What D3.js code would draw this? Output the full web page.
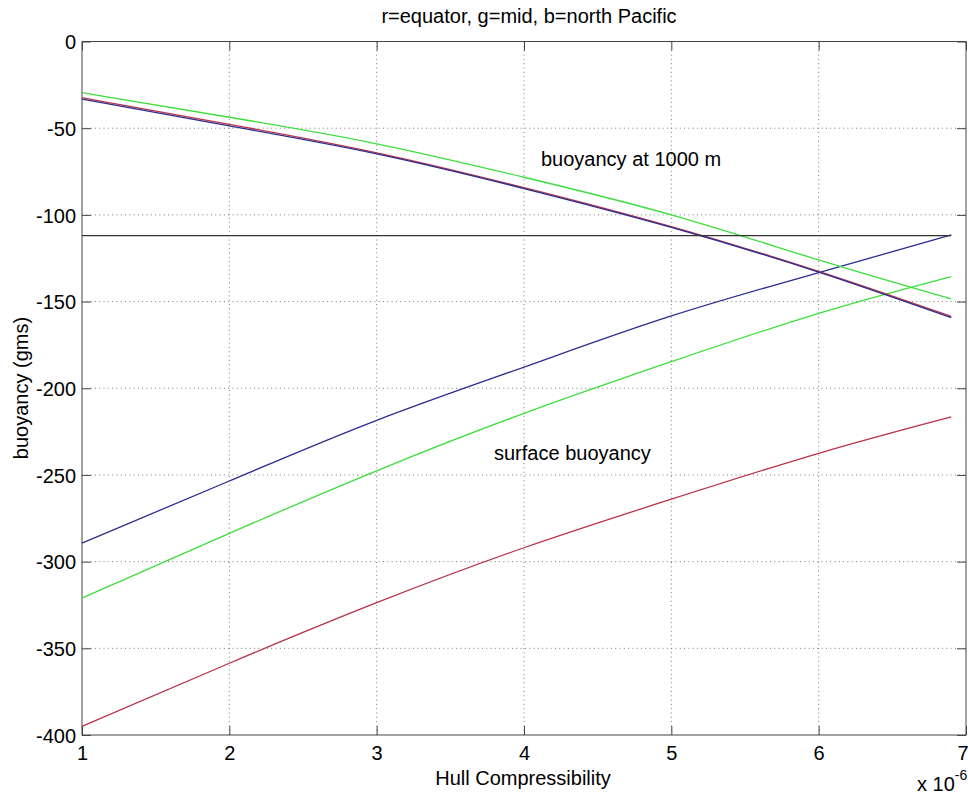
<!DOCTYPE html>
<html lang="en">
<head>
<meta charset="UTF-8">
<title>Buoyancy vs Hull Compressibility</title>
<script src="https://cdn.jsdelivr.net/npm/d3@7"></script>
<style>
    body { margin: 0; background: #fff; }
    svg { display: block; font-family: "Liberation Sans", Arial, sans-serif; }
</style>
</head>
<body>
<div id="chart"></div>
<script>
    // hull compressibility (x 1e-6)
    const compress = [1, 2, 3, 4, 5, 6, 6.9];

    // buoyancy at 1000 m (gms)
    const red1000   = [-32.4, -47.8, -64.2, -84.3, -106.8, -132.6, -158.6];
    const green1000 = [-29.5, -43.7, -59.0, -78.3, -100.0, -126.0, -148.5];
    const blue1000  = [-33.2, -48.7, -64.8, -84.8, -107.2, -133.0, -159.3];

    // surface buoyancy (gms)
    const redSurf   = [-395.0, -358.6, -323.7, -292.0, -264.0, -237.5, -216.5];
    const greenSurf = [-321.0, -283.7, -247.6, -214.5, -184.7, -156.8, -135.6];
    const blueSurf  = [-289.3, -253.5, -218.5, -187.8, -158.3, -133.3, -111.6];

    // reference level
    const refX = [1, 6.9];
    const refY = [-112, -112];

    const xTicks = [1, 2, 3, 4, 5, 6, 7];
    const yTicks = [0, -50, -100, -150, -200, -250, -300, -350, -400];

    const width = 968, height = 794;
    const margin = { top: 41.5, right: 2, bottom: 59, left: 82 };

    const x = d3.scaleLinear().domain([1, 7]).range([margin.left, width - margin.right]);
    const y = d3.scaleLinear().domain([-400, 0]).range([height - margin.bottom, margin.top]);

    const fmt = d => String(d); // plain hyphen minus like MATLAB

    const svg = d3.select("#chart").append("svg")
        .attr("width", width)
        .attr("height", height);

    const x0 = margin.left, x1 = width - margin.right;
    const y0 = height - margin.bottom, y1 = margin.top;
    const tickLen = 9;

    // grid
    svg.append("g")
        .selectAll("line")
        .data(xTicks.slice(1, -1))
        .join("line")
        .attr("x1", d => x(d)).attr("x2", d => x(d))
        .attr("y1", y0).attr("y2", y1)
        .attr("stroke", "#777").attr("stroke-dasharray", "1 3.3");

    svg.append("g")
        .selectAll("line")
        .data(yTicks.slice(1, -1))
        .join("line")
        .attr("y1", d => y(d)).attr("y2", d => y(d))
        .attr("x1", x0).attr("x2", x1)
        .attr("stroke", "#777").attr("stroke-dasharray", "1 3.3");

    // axes (MATLAB style, ticks inward on all sides)
    const xAxis = d3.axisBottom(x).tickValues(xTicks).tickSize(-tickLen).tickPadding(11).tickFormat(fmt);
    const yAxis = d3.axisLeft(y).tickValues(yTicks).tickSize(-tickLen).tickPadding(6).tickFormat(fmt);

    const gx = svg.append("g")
        .attr("transform", `translate(0,${y0})`)
        .call(xAxis);
    const gy = svg.append("g")
        .attr("transform", `translate(${x0},0)`)
        .call(yAxis);
    const gxt = svg.append("g")
        .attr("transform", `translate(0,${y1})`)
        .call(d3.axisTop(x).tickValues(xTicks).tickSize(-tickLen).tickFormat(""));
    const gyr = svg.append("g")
        .attr("transform", `translate(${x1},0)`)
        .call(d3.axisRight(y).tickValues(yTicks).tickSize(-tickLen).tickFormat(""));

    [gx, gy, gxt, gyr].forEach(g => {
        g.select(".domain").remove();
        g.selectAll(".tick line").attr("stroke", "#444");
        g.selectAll("text")
            .attr("fill", "#000")
            .attr("font-size", 20)
            .attr("font-family", "Liberation Sans, Arial, sans-serif");
    });
    gy.selectAll("text").attr("dy", "0.36em");
    // last x label sits at the right edge of the window
    gx.selectAll(".tick text").filter(d => d === 7)
        .attr("text-anchor", "end").attr("x", 2);

    // box
    svg.append("rect")
        .attr("x", x0).attr("y", y1)
        .attr("width", x1 - x0).attr("height", y0 - y1)
        .attr("fill", "none").attr("stroke", "#444");

    // lines
    const line = d3.line()
        .x((d, i) => x(compress[i]))
        .y(d => y(d))
        .curve(d3.curveNatural);

    const series = [
        { values: redSurf, color: "#b8324a" },
        { values: greenSurf, color: "#3ede3e" },
        { values: blueSurf, color: "#2c2c8e" },
        { values: green1000, color: "#3ede3e" },
        { values: red1000, color: "#b8324a" },
        { values: blue1000, color: "#2c2c8e" }
    ];

    svg.append("g")
        .selectAll("path")
        .data(series)
        .join("path")
        .attr("d", d => line(d.values))
        .attr("fill", "none")
        .attr("stroke", d => d.color)
        .attr("stroke-width", 1.3);

    svg.append("line")
        .attr("x1", x(refX[0])).attr("x2", x(refX[1]))
        .attr("y1", y(refY[0])).attr("y2", y(refY[1]))
        .attr("stroke", "#333").attr("stroke-width", 1.2);

    // texts
    svg.append("text")
        .attr("x", 529).attr("y", 23)
        .attr("text-anchor", "middle")
        .attr("font-size", 20)
        .text("r=equator, g=mid, b=north Pacific");

    svg.append("text")
        .attr("x", 523).attr("y", 785)
        .attr("text-anchor", "middle")
        .attr("font-size", 20)
        .text("Hull Compressibility");

    svg.append("text")
        .attr("transform", "translate(28,388) rotate(-90)")
        .attr("text-anchor", "middle")
        .attr("font-size", 20)
        .text("buoyancy (gms)");

    const exp = svg.append("text")
        .attr("x", 917).attr("y", 791)
        .attr("font-size", 20);
    exp.append("tspan").text("x 10");
    exp.append("tspan").attr("font-size", 14).attr("dy", -11).text("-6");

    svg.append("text")
        .attr("x", 541).attr("y", 166)
        .attr("font-size", 20)
        .text("buoyancy at 1000 m");

    svg.append("text")
        .attr("x", 494).attr("y", 460)
        .attr("font-size", 20)
        .text("surface buoyancy");
</script>
</body>
</html>
